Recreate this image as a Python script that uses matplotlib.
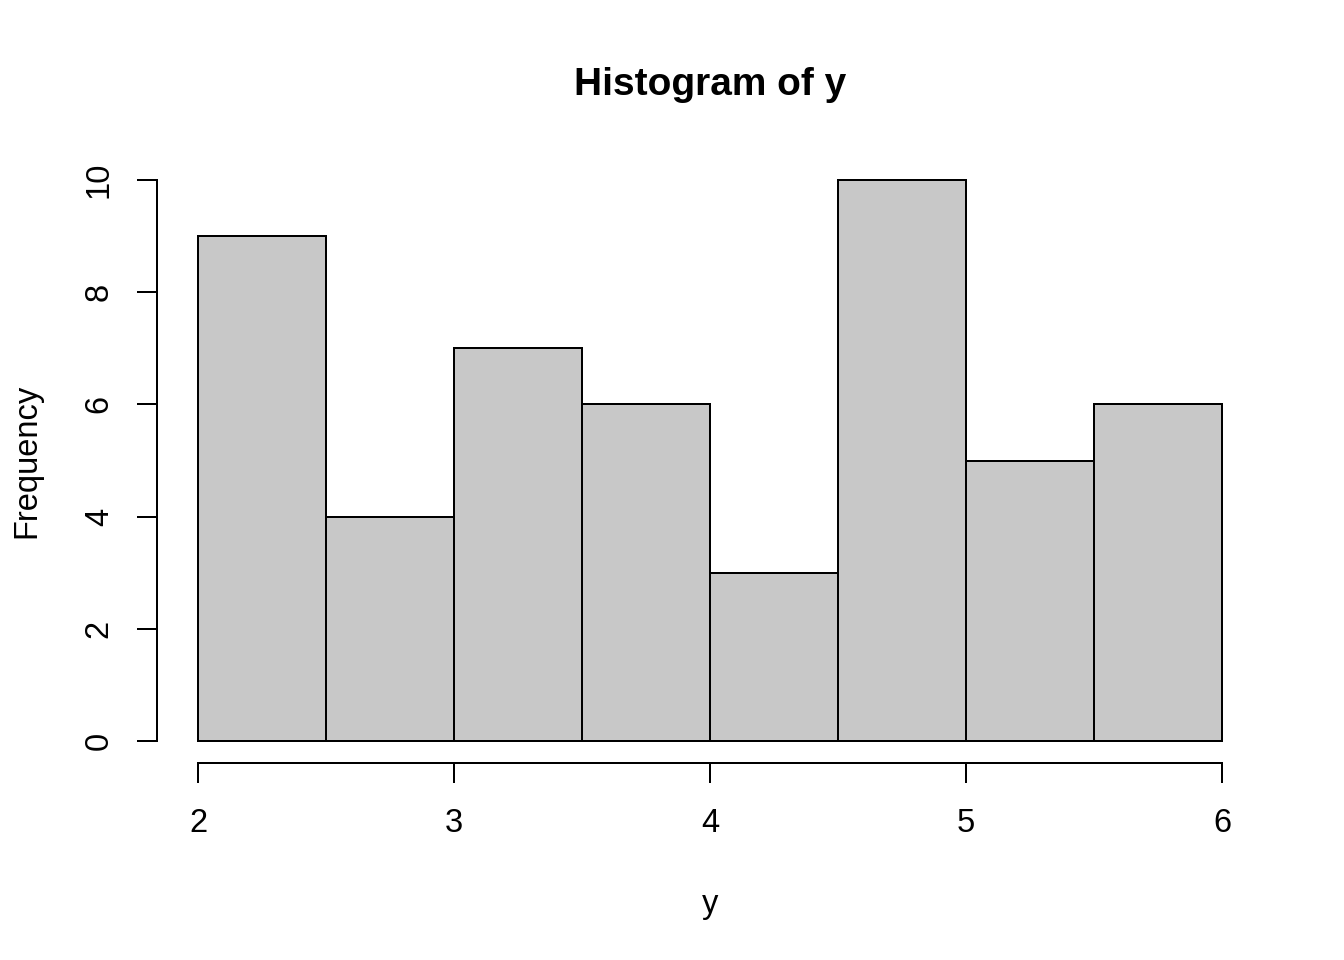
"""R-style histogram of y."""
import matplotlib
matplotlib.use("Agg")
import matplotlib.pyplot as plt

bin_edges = [2.0, 2.5, 3.0, 3.5, 4.0, 4.5, 5.0, 5.5, 6.0]
counts = [9, 4, 7, 6, 3, 10, 5, 6]
x_ticks = [2, 3, 4, 5, 6]
y_ticks = [0, 2, 4, 6, 8, 10]

plt.rcParams['font.family'] = ['Liberation Sans', 'DejaVu Sans']

fig = plt.figure(figsize=(13.44, 9.6), dpi=100)
ax = fig.add_axes([157 / 1344, 1 - 763.4 / 960, (1263 - 157) / 1344, (763.4 - 157.6) / 960])

lw = 1.44
fs = 23.5
widths = [b - a for a, b in zip(bin_edges[:-1], bin_edges[1:])]
ax.bar(bin_edges[:-1], counts, width=widths, align='edge',
       color='#c8c8c8', edgecolor='black', linewidth=lw)

ax.set_xlim(1.84, 6.16)
ax.set_ylim(-0.4, 10.4)

for side in ['top', 'right']:
    ax.spines[side].set_visible(False)
ax.spines['left'].set_bounds(0, 10)
ax.spines['bottom'].set_bounds(2, 6)
ax.spines['left'].set_linewidth(lw)
ax.spines['bottom'].set_linewidth(lw)

ax.set_xticks(x_ticks)
ax.set_yticks(y_ticks)
ax.set_yticklabels([str(v) for v in y_ticks], rotation=90, va='center')
ax.tick_params(axis='both', length=14.4, width=lw, labelsize=fs, direction='out')
ax.tick_params(axis='x', pad=18)
ax.tick_params(axis='y', pad=16)

ax.set_title('Histogram of y', fontsize=28, fontweight='bold', pad=45)
ax.set_xlabel('y', fontsize=fs, labelpad=36)
ax.set_ylabel('Frequency', fontsize=fs, labelpad=30)

fig.savefig('out.png', dpi=100)
